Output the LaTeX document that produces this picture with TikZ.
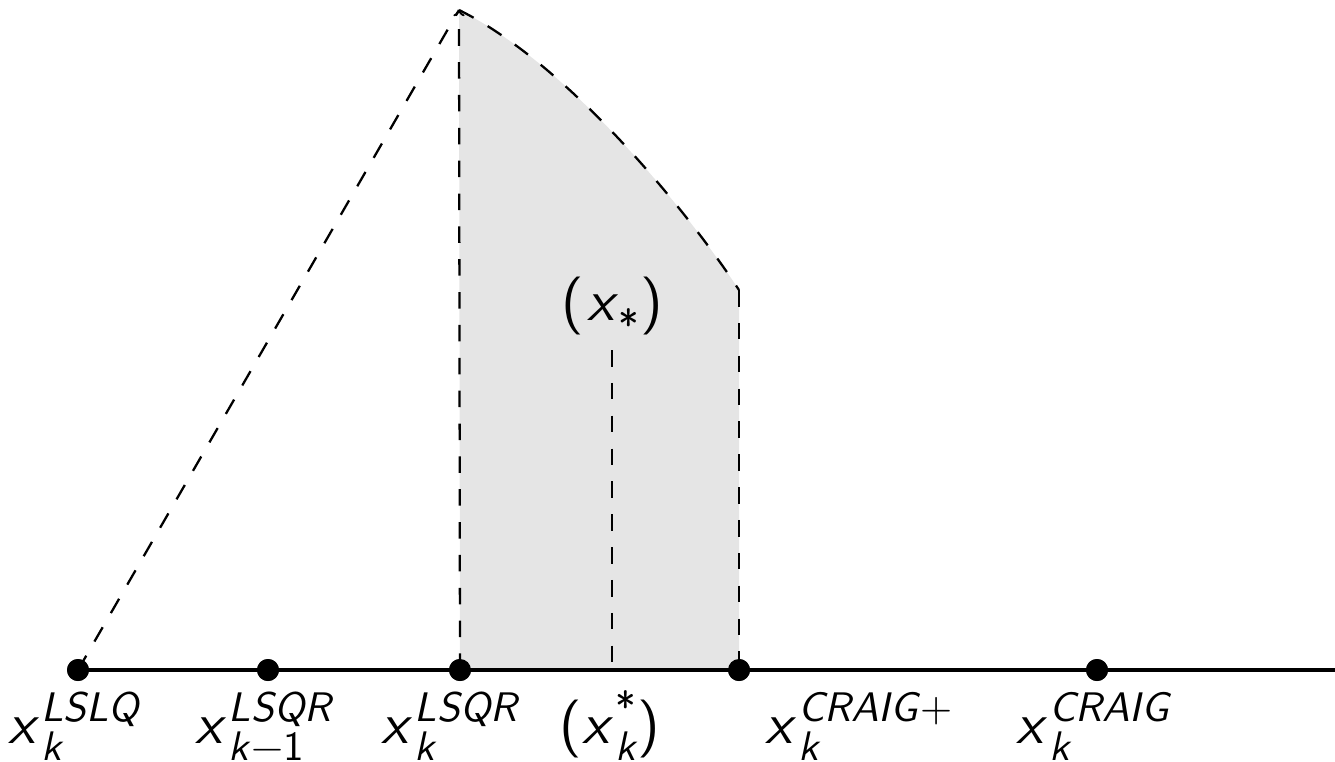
\documentclass[tikz,border=0pt]{standalone}
\usepackage{fontspec}
\setsansfont{lmsans10-regular.otf}[ItalicFont=lmsans10-oblique.otf]
\newcommand\scr[1]{{\fontsize{23.5}{26}\selectfont #1}}
\newcommand\sx[2]{\textit{x}\kern0.03em\ooalign{\raisebox{12.5pt}{\scr{#2}}\cr\raisebox{-10pt}{\scr{#1}}\cr}}
\begin{document}
\begin{tikzpicture}[x=0.02cm,y=-0.02cm,
  dot/.style={circle,fill=black,inner sep=0pt,minimum size=22*0.02cm},
  lbl/.style={inner sep=0pt,font=\fontsize{33}{38}\selectfont\sffamily},
  dsh/.style={line width=1.3pt,dash pattern=on 9.4pt off 9.3pt},
  axisline/.style={line width=2pt},
  shade/.style={fill=black!10}]
\useasboundingbox (0,0) rectangle (1335,761);
\coordinate (top) at (459,10);
\coordinate (cr) at (739,290);
\coordinate (xs) at (612,350);
\coordinate (xsb) at (612,670);
\coordinate (axend) at (1335,670);
\node[dot] (d1) at (78,670) {};
\node[dot] (d2) at (268,670) {};
\node[dot] (d3) at (460,670) {};
\node[dot] (d4) at (739,670) {};
\node[dot] (d5) at (1097,670) {};
\fill[shade] (d3.center) -- (top) .. controls (570,65) and (690,215) .. (cr) -- (d4.center) -- cycle;
\draw[dsh] (d1.center) -- (top);
\draw[dsh,->] (d3.center) -- (top);
\draw[dsh] (top) .. controls (570,65) and (690,215) .. (cr);
\draw[dsh] (cr) -- (d4.center);
\draw[dsh] (xs) -- (xsb);
\draw[axisline] (d1.center) -- (axend);
\foreach \n in {d1,d2,d3,d4,d5} \node[dot] at (\n) {};
\node[lbl,anchor=base] (l1) at (75,743) {\sx{\textit{k}}{\textit{LSLQ}}};
\node[lbl,anchor=base] (l2) at (265,743) {\sx{\textit{k}−1}{\textit{LSQR}}};
\node[lbl,anchor=base] (l3) at (451,743) {\sx{\textit{k}}{\textit{LSQR}}};
\node[lbl,anchor=base] (l4) at (610,743) {(\sx{\textit{k}}{*})};
\node[lbl,anchor=base west] (l5) at (765,743) {\sx{\textit{k}}{\textit{CRAIG}+}};
\node[lbl,anchor=base] (l6) at (1094,743) {\sx{\textit{k}}{\textit{CRAIG}}};
\node[lbl,anchor=base] (l7) at (612,320) {(\kern0.06em\textit{x}\raisebox{-11pt}{\scr{*}}\kern0.02em)};
\end{tikzpicture}
\end{document}
